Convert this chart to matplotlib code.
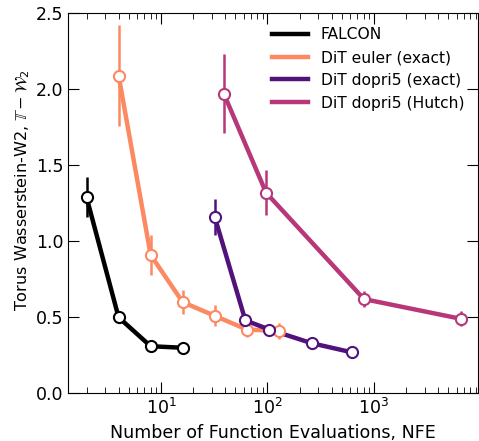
import matplotlib.pyplot as plt
import numpy as np

# data
falcon_nfe = [2, 4, 8, 16]
falcon_w2 = [1.29, 0.50, 0.31, 0.30]
falcon_err = [0.13, 0.04, 0.02, 0.02]

euler_nfe = [4, 8, 16, 32, 64, 128]
euler_w2 = [2.09, 0.91, 0.60, 0.51, 0.42, 0.41]
euler_err = [0.33, 0.13, 0.08, 0.07, 0.05, 0.05]

dopri_nfe = [32, 62, 104, 260, 620]
dopri_w2 = [1.16, 0.48, 0.42, 0.33, 0.27]
dopri_err = [0.12, 0.03, 0.02, 0.02, 0.02]

hutch_nfe = [39, 97, 806, 6600]
hutch_w2 = [1.97, 1.32, 0.62, 0.49]
hutch_err = [0.26, 0.15, 0.05, 0.05]

series = [
    ("FALCON", falcon_nfe, falcon_w2, falcon_err, "black"),
    ("DiT euler (exact)", euler_nfe, euler_w2, euler_err, "#fc8961"),
    ("DiT dopri5 (exact)", dopri_nfe, dopri_w2, dopri_err, "#51127c"),
    ("DiT dopri5 (Hutch)", hutch_nfe, hutch_w2, hutch_err, "#b73779"),
]

fig, ax = plt.subplots(figsize=(4.79, 4.41), dpi=100)

for label, x, y, e, c in series:
    ax.plot(x, y, color=c, lw=3.2, label=label, zorder=2)
    ax.errorbar(x, y, yerr=e, fmt="none", ecolor=c, elinewidth=1.8, zorder=3)
    ax.plot(x, y, "o", ms=8, mfc="white", mec=c, mew=1.5, zorder=4)

ax.set_xscale("log")
ax.set_xlim(1.34, 9500)
ax.set_ylim(0, 2.5)
ax.set_yticks([0, 0.5, 1.0, 1.5, 2.0, 2.5])
ax.tick_params(which="both", direction="in", top=True, right=True, labelsize=12.5)
ax.tick_params(which="major", length=8)
ax.tick_params(which="minor", length=4)

ax.set_xlabel("Number of Function Evaluations, NFE", fontsize=12.6)
ax.set_ylabel(r"Torus Wasserstein-W2, $\mathbb{T}-\mathcal{W}_2$", fontsize=11.6)
ax.yaxis.set_label_coords(-0.088, 0.535)

ax.legend(frameon=False, fontsize=11.2, loc="upper right", handlelength=2.35)

fig.subplots_adjust(left=0.142, right=0.998, top=0.97, bottom=0.108)
fig.savefig("out.png", dpi=100)
